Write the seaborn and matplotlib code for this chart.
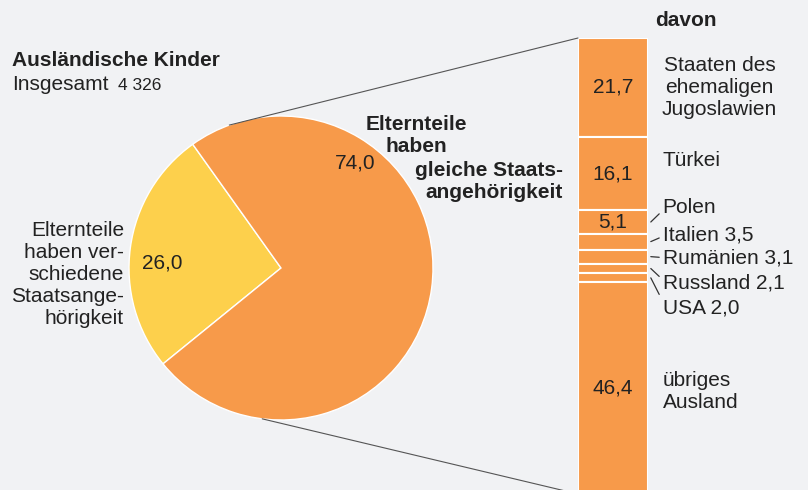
import numpy as np
import matplotlib.pyplot as plt
import seaborn as sns
from matplotlib.patches import ConnectionPatch
from matplotlib.transforms import blended_transform_factory

# Ausländische Kinder nach Staatsangehörigkeit der Eltern (in %)
parent_groups = ["verschieden", "gleich"]
parent_shares = [26.0, 74.0]

countries = ["Staaten des\nehemaligen\nJugoslawien", "Türkei", "Polen", "Italien 3,5",
             "Rumänien 3,1", "Russland 2,1", "USA 2,0", "übriges\nAusland"]
country_shares = [21.7, 16.1, 5.1, 3.5, 3.1, 2.1, 2.0, 46.4]

total = "4 326"

# colours / layout
bg = "#f1f2f4"
orange = "#f79a4a"
yellow = "#fdd04c"
ink = "#222222"
W, H = 808, 490

sns.set_theme(style="white", rc={"figure.facecolor": bg, "axes.facecolor": bg})
plt.rcParams["font.family"] = ["Liberation Sans", "DejaVu Sans"]

fig = plt.figure(figsize=(W / 100, H / 100), dpi=100)

# pie: centre (281, 268), radius 152 px
cx, cy, r = 281, 268, 152
ax_pie = fig.add_axes([(cx - r) / W, (H - cy - r) / H, 2 * r / W, 2 * r / H])
ax_pie.pie(parent_shares, colors=[yellow, orange], startangle=125.5, counterclock=True,
           radius=1, wedgeprops=dict(edgecolor="white", linewidth=1))
ax_pie.set_xlim(-1, 1)
ax_pie.set_ylim(-1, 1)
ax_pie.set_aspect("auto")
ax_pie.axis("off")

def fmt(v):
    return f"{v:.1f}".replace(".", ",")

ax_pie.text(-0.78, 0.03, fmt(parent_shares[0]), ha="center", va="center", fontsize=15, color=ink)
ax_pie.text(0.49, 0.69, fmt(parent_shares[1]), ha="center", va="center", fontsize=15, color=ink)

# stacked bar: x 578-648, top y=38, 4.56 px per %
bx0, bx1, by0 = 578, 648, 38
bh = 4.56 * 100
ax_bar = fig.add_axes([bx0 / W, (H - by0 - bh) / H, (bx1 - bx0) / W, bh / H])
bottoms = np.concatenate([[0], np.cumsum(country_shares)[:-1]])
ax_bar.bar(0, country_shares, bottom=bottoms, width=1, color=orange,
           edgecolor="white", linewidth=1.5)
ax_bar.set_xlim(-0.5, 0.5)
ax_bar.set_ylim(100, 0)
ax_bar.axis("off")

centers = bottoms + np.array(country_shares) / 2
for c, v in zip(centers, country_shares):
    if v >= 5:
        ax_bar.text(0, c, fmt(v), ha="center", va="center", fontsize=15, color=ink)

# labels right of the bar
tr = blended_transform_factory(ax_bar.transAxes, ax_bar.transData)
label_y = [10.8, 26.8, 37.1, 43.2, 48.2, 53.7, 59.2, 77.6]
for i, (name, c, ly) in enumerate(zip(countries, centers, label_y)):
    if i == 0:
        ax_bar.text(2.02, ly, name, transform=tr, ha="center", va="center",
                    fontsize=15, color=ink, multialignment="center", linespacing=1.2)
    else:
        ax_bar.text(1.21, ly, name, transform=tr, ha="left", va="center",
                    fontsize=15, color=ink, linespacing=1.2)
    if 2 <= i <= 6:
        ax_bar.plot([1.04, 1.16], [c, c + 0.55 * (ly - c)], transform=tr,
                    color="#333333", lw=0.9, clip_on=False)

# connecting lines pie -> bar
for ang, yb in [(109.9, 0), (262.9, 100)]:
    a = np.deg2rad(ang)
    con = ConnectionPatch(xyA=(np.cos(a), np.sin(a)), coordsA=ax_pie.transData,
                          xyB=(-0.5, yb), coordsB=ax_bar.transData,
                          color="#555555", lw=0.8, zorder=3)
    fig.add_artist(con)

# texts
fig.text(12 / W, 1 - 60 / H, "Ausländische Kinder", fontsize=15, fontweight="bold",
         color=ink, va="center")
fig.text(12 / W, 1 - 84 / H, "Insgesamt", fontsize=15, color=ink, va="center")
fig.text(118 / W, 1 - 85 / H, total, fontsize=12.5, color=ink, va="center")
fig.text(655 / W, 1 - 20 / H, "davon", fontsize=15, fontweight="bold", color=ink, va="center")

fig.text(124 / W, 1 - 275 / H, "Elternteile\nhaben ver-\nschiedene\nStaatsange-\nhörigkeit",
         fontsize=15, color=ink, ha="right", va="center", linespacing=1.2)
fig.text(416 / W, 1 - 136 / H, "Elternteile\nhaben", fontsize=15, fontweight="bold",
         color=ink, ha="center", va="center", linespacing=1.2)
fig.text(563 / W, 1 - 181 / H, "gleiche Staats-\nangehörigkeit", fontsize=15,
         fontweight="bold", color=ink, ha="right", va="center", multialignment="right",
         linespacing=1.2)

fig.savefig("out.png", dpi=100, facecolor=bg)
